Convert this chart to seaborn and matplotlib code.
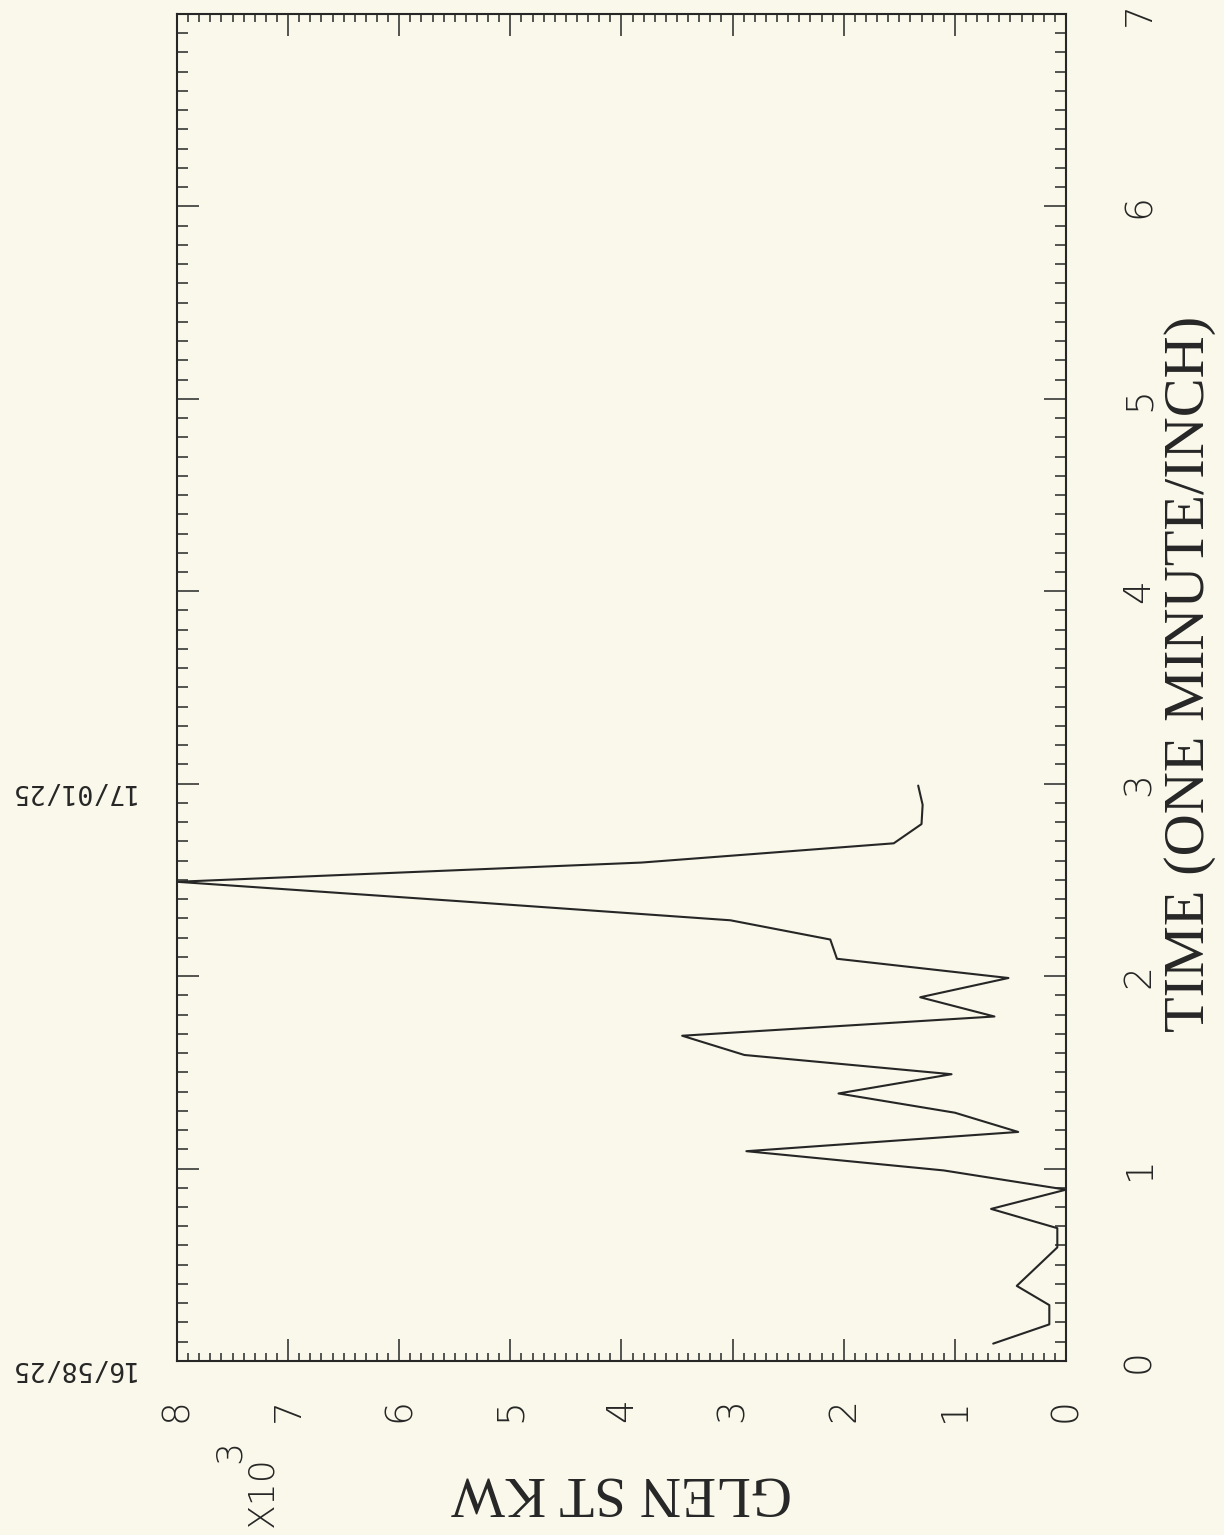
import numpy as np
import pandas as pd
import matplotlib
matplotlib.use("Agg")
import matplotlib.pyplot as plt
import seaborn as sns
from matplotlib.ticker import MultipleLocator

# Recorded demand, sampled every 0.1 minute
minutes = [0.09, 0.19, 0.29, 0.39, 0.49, 0.59, 0.69, 0.79, 0.89, 0.99,
           1.09, 1.19, 1.29, 1.39, 1.49, 1.59, 1.69, 1.79, 1.89, 1.99,
           2.09, 2.19, 2.29, 2.39, 2.49, 2.59, 2.69, 2.79, 2.89, 2.99]
kw_thousands = [0.655, 0.15, 0.15, 0.443, 0.26, 0.078, 0.078, 0.674, 0.0, 1.10,
                2.876, 0.43, 1.00, 2.047, 1.03, 2.894, 3.454, 0.644, 1.312, 0.518,
                2.061, 2.121, 3.02, 5.48, 8.0, 3.82, 1.55, 1.30, 1.29, 1.33]

kw_ticks = [0, 1, 2, 3, 4, 5, 6, 7, 8]
time_ticks = [0, 1, 2, 3, 4, 5, 6, 7]
clock_labels = ["16/58/25", "17/01/25"]
clock_minutes = [0, 3]

sns.set_theme(style="white")
plt.rcParams['font.family'] = ['DejaVu Sans']

paper = '#faf8ea'
ink = '#262626'
serif = ['Liberation Serif', 'DejaVu Serif']

fig = plt.figure(figsize=(12.24, 15.35), dpi=100, facecolor=paper)
ax = fig.add_axes([0.1446, 0.1134, 0.7263, 0.8775])
ax.set_facecolor(paper)

df = pd.DataFrame({'kw': kw_thousands, 'minutes': minutes})
sns.lineplot(data=df, x='kw', y='minutes', sort=False, estimator=None,
             color=ink, linewidth=1.5, ax=ax)

ax.set_xlim(8, 0)
ax.set_ylim(0, 7)
ax.set_xticks(kw_ticks)
ax.set_yticks(time_ticks)
ax.xaxis.set_minor_locator(MultipleLocator(0.1))
ax.yaxis.set_minor_locator(MultipleLocator(0.1))
ax.grid(False)

for sp in ax.spines.values():
    sp.set_visible(True)
    sp.set_color(ink)
    sp.set_linewidth(1.5)

ax.tick_params(which='both', direction='in', top=True, bottom=True,
               left=True, right=True, labelleft=False, labelright=True,
               labelbottom=True, labeltop=False, color=ink, width=1.1,
               labelcolor=ink)
ax.tick_params(which='major', length=15.5)
ax.tick_params(axis='x', which='minor', length=5.5)
ax.tick_params(axis='y', which='minor', length=8)
ax.tick_params(axis='x', which='major', labelrotation=90, pad=27, labelsize=27)
ax.tick_params(axis='y', which='major', labelrotation=90, pad=40, labelsize=27)
for lbl in ax.get_yticklabels():
    lbl.set_va('center')
    lbl.set_fontweight('light')
for lbl in ax.get_xticklabels():
    lbl.set_fontweight('light')

ax.set_xlabel('GLEN ST KW', family=serif, fontsize=41, rotation=180, color=ink)
ax.xaxis.set_label_coords(0.5, -0.0973)
ax.xaxis.label.set_va('center')

ax.yaxis.set_label_position('right')
ax.set_ylabel('TIME (ONE MINUTE/INCH)', family=serif, fontsize=42,
              rotation=90, color=ink)
ax.yaxis.set_label_coords(1.1395, 0.51)
ax.yaxis.label.set_va('center')
ax.yaxis.label.set_ha('center')

# scale factor for the kW axis
ax.text(0.0956, -0.0973, 'X10', transform=ax.transAxes, rotation=90,
        ha='center', va='center', fontsize=26, color=ink, fontweight='light')
ax.text(0.0596, -0.0676, '3', transform=ax.transAxes, rotation=90,
        ha='center', va='center', fontsize=26, color=ink, fontweight='light')

# clock time stamps along the time axis
for lab, t in zip(clock_labels, clock_minutes):
    ax.text(-0.1204, t, lab, transform=ax.get_yaxis_transform(), rotation=180,
            rotation_mode='anchor', ha='center', va='baseline',
            family='DejaVu Sans Mono', fontsize=19, color=ink)

fig.savefig('out.png', dpi=100, facecolor=paper)
